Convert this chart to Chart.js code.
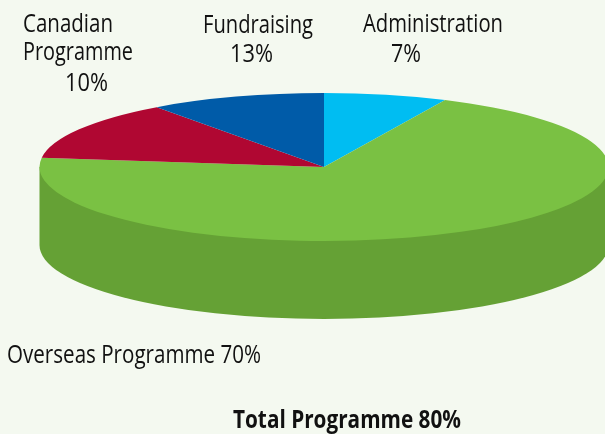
<!DOCTYPE html>
<html>
<head>
<meta charset="utf-8">
<title>Expenses</title>
<script src="https://cdn.jsdelivr.net/npm/chart.js@4/dist/chart.umd.min.js"></script>
<style>
	html, body { margin: 0; padding: 0; background: #f4f9f0; overflow: hidden; }
	canvas { display: block; }
</style>
</head>
<body>
<canvas id="pie" width="605" height="434"></canvas>
<script>
const categories = ['Administration', 'Overseas Programme', 'Fundraising', 'Canadian Programme'];
const shares = [7, 70, 13, 10];
const sliceColors = ['#00bdf2', '#7ac143', '#b00732', '#005ba8'];
const totalLabel = 'Total Programme';
const totalShare = 80;

// flattened disc on the page
const disc = { x: 324, y: 167, rx: 284.5, ry: 74, depth: 78, wall: '#65a135' };

const pct = i => shares[i] + '%';

// [text, left, baseline, width]
const captions = [
	['Canadian', 23, 32, 90],
	['Programme', 23, 60, 110],
	[pct(3), 65, 91, 43],
	[categories[2], 203, 33, 110],
	[pct(2), 230, 62, 43],
	[categories[0], 363, 32, 140],
	[pct(0), 391, 62, 30],
	[categories[1] + ' ' + pct(1), 7, 363, 254]
];

const flatPie = {
	id: 'flatPie',
	beforeDatasetsDraw(chart) {
		const ctx = chart.ctx;
		const arc = chart.getDatasetMeta(0).data[0];

		// side wall, only the green slice faces the viewer
		ctx.save();
		ctx.fillStyle = disc.wall;
		ctx.beginPath();
		ctx.ellipse(disc.x, disc.y + disc.depth, disc.rx, disc.ry, 0, 0, Math.PI);
		ctx.lineTo(disc.x - disc.rx, disc.y);
		ctx.lineTo(disc.x + disc.rx, disc.y);
		ctx.closePath();
		ctx.fill();
		ctx.restore();

		ctx.save();
		ctx.translate(disc.x, disc.y);
		ctx.scale(disc.rx / arc.outerRadius, disc.ry / arc.outerRadius);
		ctx.translate(-arc.x, -arc.y);
	},
	afterDatasetsDraw(chart) {
		chart.ctx.restore();
	},
	afterDraw(chart) {
		const ctx = chart.ctx;
		ctx.save();
		ctx.fillStyle = '#111';
		ctx.textAlign = 'left';
		ctx.textBaseline = 'alphabetic';
		ctx.font = '25px "Open Sans"';
		captions.forEach(c => ctx.fillText(c[0], c[1], c[2], c[3]));
		ctx.font = 'bold 25px "Open Sans"';
		ctx.fillText(totalLabel + ' ' + totalShare + '%', 233, 428, 228);
		ctx.restore();
	}
};

new Chart(document.getElementById('pie'), {
	type: 'pie',
	data: {
		labels: categories,
		datasets: [{
			data: shares,
			backgroundColor: sliceColors,
			borderWidth: 0
		}]
	},
	options: {
		responsive: false,
		animation: false,
		events: [],
		plugins: {
			legend: { display: false },
			tooltip: { enabled: false }
		}
	},
	plugins: [flatPie]
});
</script>
</body>
</html>
